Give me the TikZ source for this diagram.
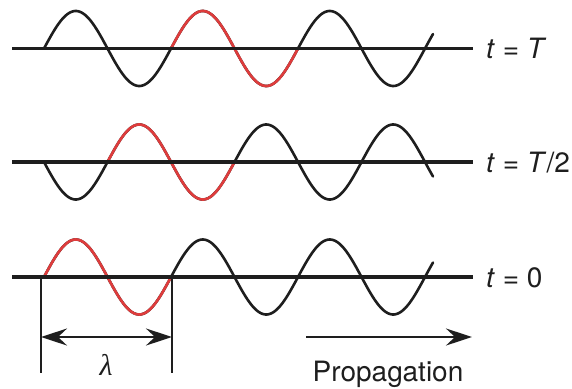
\documentclass[tikz,border=0pt]{standalone}
\usepackage{fontspec}
\setmainfont{TeX Gyre Heros}
\newfontfamily\lamfont{Liberation Serif}
\usetikzlibrary{arrows.meta}
\definecolor{wred}{RGB}{222,60,60}
\definecolor{ink}{RGB}{30,30,30}
\begin{document}
\begin{tikzpicture}[x=1pt,y=-1pt,
  axis/.style={line width=3.5pt,draw=ink},
  wave/.style={line width=2.6pt,line cap=round,line join=round,draw=ink},
  redwave/.style={wave,draw=wred},
  lab/.style={font=\fontsize{28}{32}\selectfont,anchor=base west,inner sep=0pt,text=ink},
  dim/.style={line width=2.6pt,draw=ink},
  arr/.style={line width=2.6pt,draw=ink,fill=ink,-{Stealth[length=26pt,width=17pt,inset=9pt]}},
  dblarr/.style={line width=2.6pt,draw=ink,fill=ink,{Stealth[length=26pt,width=17pt,inset=9pt]}-{Stealth[length=26pt,width=17pt,inset=9pt]}}]
\useasboundingbox (0,0) rectangle (572,388);
\def\lam{127}
\def\kk{2.834646}% 360/127
\def\xs{44}
\def\xe{433}
\def\amp{37.5}
% waves: baseline y / sign / red offset (in wavelengths)
\foreach \yy/\sg/\rr in {48.5/1/1, 162/-1/0.5, 277/1/0}{
  \pgfmathsetmacro{\ra}{\xs+\rr*\lam}
  \pgfmathsetmacro{\rb}{\xs+(\rr+1)*\lam}
  \draw[wave] plot[domain=\xs:\xe,samples=240,smooth] (\x,{\yy-\sg*\amp*sin(\kk*(\x-\xs))});
  \draw[redwave] plot[domain=\ra:\rb,samples=100,smooth] (\x,{\yy-\sg*\amp*sin(\kk*(\x-\xs))});
}
% axes
\coordinate (aT1) at (12,48.5);  \coordinate (aT2) at (473,48.5);
\coordinate (aH1) at (12,162);   \coordinate (aH2) at (473,162);
\coordinate (a01) at (12,277);   \coordinate (a02) at (473,277);
\draw[axis] (aT1) -- (aT2);
\draw[axis] (aH1) -- (aH2);
\draw[axis] (a01) -- (a02);
% labels
\node[lab] (lT) at (486,58.5) {\textit{t} = \textit{T}};
\node[lab] (lH) at (486,172) {\textit{t} = \textit{T}/2};
\node[lab] (l0) at (486,287) {\textit{t} = 0};
% wavelength dimension
\coordinate (d1t) at (41,277); \coordinate (d1b) at (41,373);
\coordinate (d2t) at (172,277); \coordinate (d2b) at (172,373);
\draw[dim] (d1t) -- (d1b);
\draw[dim] (d2t) -- (d2b);
\coordinate (da) at (41,337); \coordinate (db) at (172,337);
\draw[dblarr] (da) -- (db);
\node[inner sep=0pt,anchor=base,text=ink,font=\lamfont\itshape\fontsize{30}{32}\selectfont] (lam) at (106,375) {λ};
% propagation
\coordinate (pa) at (306,337); \coordinate (pb) at (472,337);
\draw[arr] (pa) -- (pb);
\node[lab,anchor=base] (prop) at (388,381) {Propagation};
\end{tikzpicture}
\end{document}
